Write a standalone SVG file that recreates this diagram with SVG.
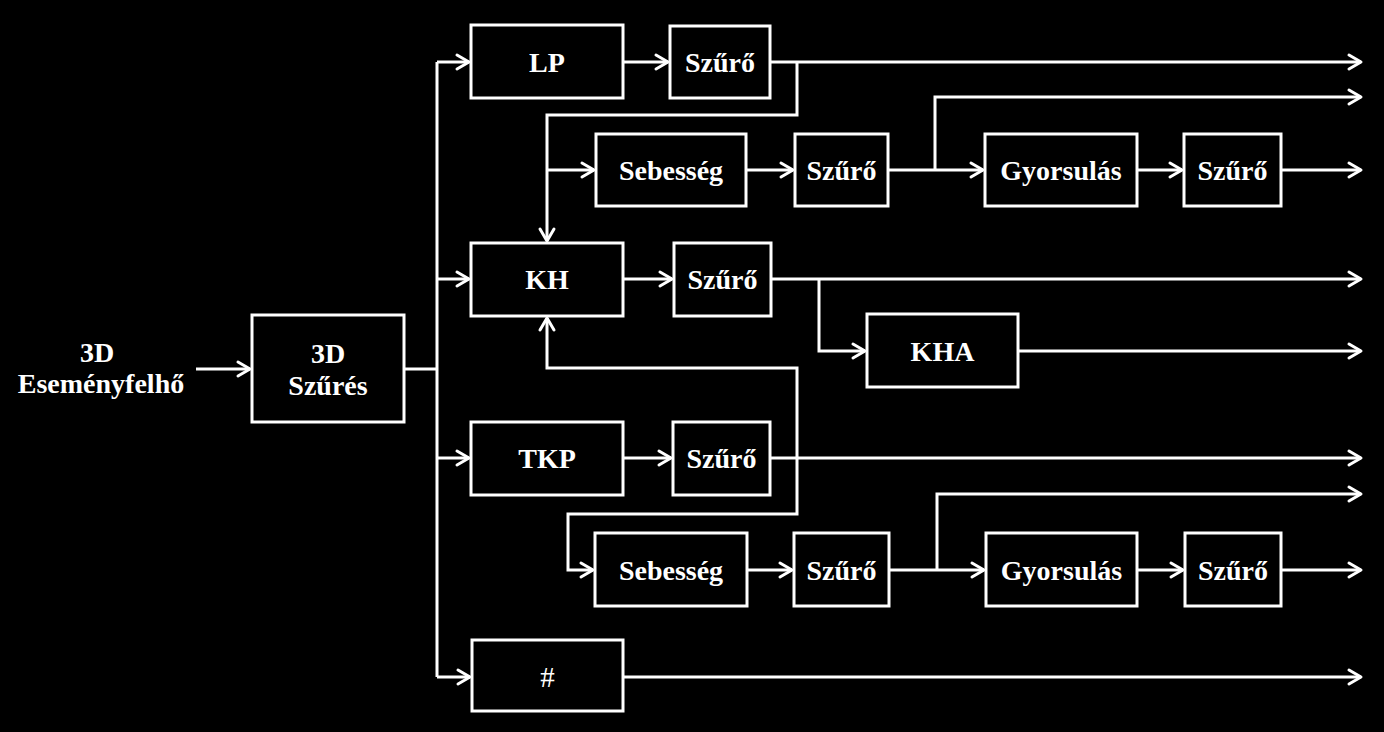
<svg xmlns="http://www.w3.org/2000/svg" width="1384" height="732" viewBox="0 0 1384 732">
<defs>
<style>
.box{fill:#000;stroke:#fff;stroke-width:3}
.t{font-family:"Liberation Serif","Times New Roman",serif;font-weight:bold;font-size:28px;fill:#fff;text-anchor:middle}
.h{font-family:"Liberation Serif","Times New Roman",serif;font-size:29px;fill:#fff;text-anchor:middle}
.c{fill:none;stroke:#fff;stroke-width:3}
.a{marker-end:url(#arr)}
</style>
<marker id="arr" markerUnits="userSpaceOnUse" markerWidth="20" markerHeight="20" viewBox="-15 -10 20 20" refX="0" refY="0" orient="auto" overflow="visible">
<path d="M-12,-7 L0,0 L-12,7" fill="none" stroke="#fff" stroke-width="3" stroke-linejoin="round" stroke-linecap="round"/>
</marker>
</defs>
<rect width="1384" height="732" fill="#000"/>
<g id="source"><text class="t" x="97" y="362">3D</text><text class="t" x="101" y="393">Eseményfelhő</text></g>
<g id="szures3d"><rect class="box" x="252" y="315" width="152" height="107"/><text class="t" x="328" y="363">3D</text><text class="t" x="328" y="395">Szűrés</text></g>
<g id="lp"><rect class="box" x="471" y="25" width="152" height="73"/><text class="t" x="547" y="72">LP</text></g>
<g id="szuro1"><rect class="box" x="670" y="26" width="100" height="72"/><text class="t" x="720" y="72">Szűrő</text></g>
<g id="seb1"><rect class="box" x="596" y="134" width="150" height="72"/><text class="t" x="671" y="180">Sebesség</text></g>
<g id="szuro2"><rect class="box" x="795" y="134" width="93" height="72"/><text class="t" x="841.5" y="180">Szűrő</text></g>
<g id="gy1"><rect class="box" x="985" y="134" width="152" height="72"/><text class="t" x="1061" y="180">Gyorsulás</text></g>
<g id="szuro3"><rect class="box" x="1184" y="134" width="97" height="72"/><text class="t" x="1232.5" y="180">Szűrő</text></g>
<g id="kh"><rect class="box" x="471" y="243" width="152" height="73"/><text class="t" x="547" y="289">KH</text></g>
<g id="szuro4"><rect class="box" x="674" y="243" width="97" height="73"/><text class="t" x="722.5" y="289">Szűrő</text></g>
<g id="kha"><rect class="box" x="867" y="314" width="151" height="73"/><text class="t" x="942.5" y="361">KHA</text></g>
<g id="tkp"><rect class="box" x="471" y="422" width="152" height="73"/><text class="t" x="547" y="468">TKP</text></g>
<g id="szuro5"><rect class="box" x="673" y="422" width="97" height="73"/><text class="t" x="721.5" y="468">Szűrő</text></g>
<g id="seb2"><rect class="box" x="595" y="533" width="152" height="73"/><text class="t" x="671" y="580">Sebesség</text></g>
<g id="szuro6"><rect class="box" x="794" y="533" width="95" height="73"/><text class="t" x="841.5" y="580">Szűrő</text></g>
<g id="gy2"><rect class="box" x="986" y="533" width="151" height="73"/><text class="t" x="1061.5" y="580">Gyorsulás</text></g>
<g id="szuro7"><rect class="box" x="1185" y="533" width="96" height="73"/><text class="t" x="1233" y="580">Szűrő</text></g>
<g id="hash"><rect class="box" x="472" y="640" width="151" height="71"/><text class="h" x="547.5" y="687">#</text></g>
<g id="connectors">
<path class="c a" d="M196,369 H250"/>
<path class="c" d="M404,369 H437"/>
<path class="c" d="M437,62 V677"/>
<path class="c a" d="M437,62 H469"/>
<path class="c a" d="M437,279 H469"/>
<path class="c a" d="M437,458 H469"/>
<path class="c a" d="M437,677 H470"/>
<path class="c a" d="M623,62 H668"/>
<path class="c a" d="M770,62 H1361"/>
<path class="c a" d="M797,62 V115 H547 V241"/>
<path class="c a" d="M547,170 H594"/>
<path class="c a" d="M746,170 H793"/>
<path class="c a" d="M888,170 H983"/>
<path class="c a" d="M935,170 V97 H1361"/>
<path class="c a" d="M1137,170 H1182"/>
<path class="c a" d="M1281,170 H1361"/>
<path class="c a" d="M623,279 H672"/>
<path class="c a" d="M771,279 H1361"/>
<path class="c a" d="M819,279 V351 H865"/>
<path class="c a" d="M1018,351 H1361"/>
<path class="c a" d="M623,458 H671"/>
<path class="c a" d="M770,458 H1361"/>
<path class="c a" d="M797,458 V368 H547 V318"/>
<path class="c a" d="M797,458 V514 H568 V570 H593"/>
<path class="c a" d="M747,570 H792"/>
<path class="c a" d="M889,570 H984"/>
<path class="c a" d="M937,570 V494 H1361"/>
<path class="c a" d="M1137,570 H1183"/>
<path class="c a" d="M1281,570 H1361"/>
<path class="c a" d="M623,677 H1361"/>
</g>
</svg>
